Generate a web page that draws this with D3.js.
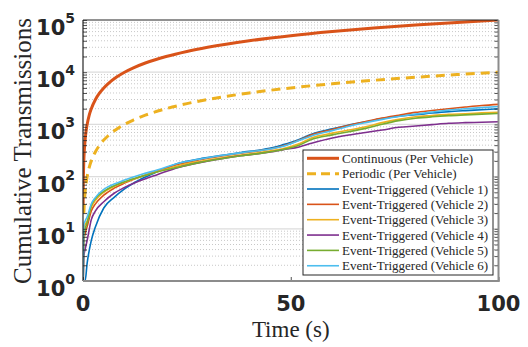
<!DOCTYPE html>
<html>
<head>
<meta charset="utf-8">
<script src="https://cdn.jsdelivr.net/npm/d3@7"></script>
<style>
  html, body { margin: 0; padding: 0; background: #fff; }
  svg { display: block; }
</style>
</head>
<body>
<svg id="chart" width="528" height="347"></svg>
<script>
// Cumulative transmissions over time, log-scaled y axis

// Continuous and periodic schemes (per vehicle)
const contTime   = [0.02, 0.05, 0.1, 0.2, 0.3, 0.5, 0.75, 1, 1.5, 2, 3, 4, 5, 6, 8, 10, 12, 15, 20, 25, 30, 40, 50, 60, 70, 80, 90, 100];
const contValues = [20, 50, 100, 200, 300, 500, 750, 1000, 1500, 2000, 3000, 4000, 5000, 6000, 8000, 10000, 12000, 15000, 20000, 25000, 30000, 40000, 50000, 60000, 70000, 80000, 90000, 100000];

const periTime   = [0.2, 0.3, 0.5, 0.75, 1, 1.5, 2, 3, 4, 5, 6, 8, 10, 12, 15, 20, 25, 30, 40, 50, 60, 70, 80, 90, 100];
const periValues = [20, 30, 50, 75, 100, 150, 200, 300, 400, 500, 600, 800, 1000, 1200, 1500, 2000, 2500, 3000, 4000, 5000, 6000, 7000, 8000, 9000, 10000];

// Event-triggered scheme, one series per vehicle
const eventTime = [0.05, 0.2, 0.5, 1, 2, 3, 5, 7.5, 10, 14, 18, 23, 28, 33, 38, 43, 46, 48, 52, 55, 60, 64, 68, 72, 76, 80, 84, 88, 92, 96, 100];
const vehicle1 = [1, 1, 1, 2.2, 6, 11, 25, 40, 58, 90, 125, 180, 218, 252, 290, 328, 365, 405, 515, 650, 820, 973, 1120, 1290, 1440, 1530, 1650, 1760, 1840, 1910, 1990];
const vehicle2 = [1, 6, 8, 11, 22, 30, 44, 60, 75, 100, 128, 172, 210, 245, 280, 318, 350, 385, 495, 630, 800, 960, 1130, 1320, 1500, 1700, 1850, 2000, 2150, 2300, 2420];
const vehicle3 = [1, 10, 12, 14, 26, 35, 50, 65, 78, 100, 125, 162, 195, 228, 260, 292, 318, 342, 425, 550, 680, 780, 900, 1080, 1250, 1400, 1480, 1560, 1600, 1660, 1710];
const vehicle4 = [1, 3, 4, 6, 15, 22, 33, 48, 62, 85, 110, 150, 185, 218, 250, 280, 302, 325, 370, 435, 550, 627, 700, 780, 880, 930, 990, 1050, 1080, 1100, 1127];
const vehicle5 = [1, 8, 10, 13, 28, 38, 52, 67, 80, 100, 124, 152, 185, 217, 250, 282, 305, 328, 400, 515, 630, 725, 840, 1010, 1180, 1310, 1400, 1470, 1520, 1570, 1620];
const vehicle6 = [1, 12, 14, 17, 30, 40, 57, 72, 86, 110, 135, 180, 215, 250, 285, 320, 350, 378, 490, 600, 760, 920, 1080, 1250, 1420, 1580, 1720, 1880, 2000, 2100, 2200];

const xTicks = [0, 50, 100];
const yTickExponents = [0, 1, 2, 3, 4, 5];

const seriesNames = [
  "Continuous (Per Vehicle)",
  "Periodic (Per Vehicle)",
  "Event-Triggered (Vehicle 1)",
  "Event-Triggered (Vehicle 2)",
  "Event-Triggered (Vehicle 3)",
  "Event-Triggered (Vehicle 4)",
  "Event-Triggered (Vehicle 5)",
  "Event-Triggered (Vehicle 6)"
];
const seriesColors = ["#D95319", "#EDB120", "#0072BD", "#D95319", "#EDB120", "#7E2F8E", "#77AC30", "#4DBEEE"];

const series = [
  { t: contTime, v: contValues, width: 3, dash: null },
  { t: periTime, v: periValues, width: 3, dash: "9,6" },
  { t: eventTime, v: vehicle1, width: 1.6, dash: null },
  { t: eventTime, v: vehicle2, width: 1.6, dash: null },
  { t: eventTime, v: vehicle3, width: 1.6, dash: null },
  { t: eventTime, v: vehicle4, width: 1.6, dash: null },
  { t: eventTime, v: vehicle5, width: 1.6, dash: null },
  { t: eventTime, v: vehicle6, width: 1.6, dash: null }
].map((s, i) => ({ ...s, name: seriesNames[i], color: seriesColors[i] }));

const svg = d3.select("#chart");
const plot = { left: 83, right: 498.5, top: 20, bottom: 281 };

const x = d3.scaleLinear().domain([0, 100]).range([plot.left, plot.right]);
const y = d3.scaleLog().domain([1, 1e5]).range([plot.bottom, plot.top]);

svg.append("defs").append("clipPath").attr("id", "plot-clip")
  .append("rect")
  .attr("x", plot.left).attr("y", plot.top)
  .attr("width", plot.right - plot.left).attr("height", plot.bottom - plot.top);

// Grid: minor dotted lines, then major solid lines at each decade
const minorVals = [];
for (let e = 0; e < 5; e++) for (let m = 2; m <= 9; m++) minorVals.push(m * Math.pow(10, e));
const majorVals = yTickExponents.map(e => Math.pow(10, e));

const grid = svg.append("g");
grid.selectAll("line.minor").data(minorVals).join("line")
  .attr("class", "minor")
  .attr("x1", plot.left).attr("x2", plot.right)
  .attr("y1", d => y(d)).attr("y2", d => y(d))
  .attr("stroke", "#c8c8c8").attr("stroke-width", 1)
  .attr("stroke-dasharray", "1,2");
grid.selectAll("line.major").data(majorVals.slice(1, -1)).join("line")
  .attr("class", "major")
  .attr("x1", plot.left).attr("x2", plot.right)
  .attr("y1", d => y(d)).attr("y2", d => y(d))
  .attr("stroke", "#dcdcdc").attr("stroke-width", 1.2);

// Series lines
const line = d3.line()
  .x(d => x(d[0]))
  .y(d => y(d[1]))
  .curve(d3.curveMonotoneX);

const lines = svg.append("g").attr("clip-path", "url(#plot-clip)");
series.forEach(s => {
  lines.append("path")
    .datum(s.t.map((t, i) => [t, s.v[i]]))
    .attr("d", line)
    .attr("fill", "none")
    .attr("stroke", s.color)
    .attr("stroke-width", s.width)
    .attr("stroke-dasharray", s.dash)
    .attr("stroke-linejoin", "round");
});

// Axes with inward ticks (left/right minor ticks on the log axis)
const yAxisLeft = d3.axisRight(y).tickValues(majorVals.concat(minorVals)).tickFormat("")
  .tickSizeOuter(0).tickSize(4);
svg.append("g").attr("transform", `translate(${plot.left},0)`).call(yAxisLeft)
  .call(g => g.select(".domain").remove())
  .call(g => g.selectAll(".tick line").attr("stroke", "#262626").attr("stroke-width", 0.8));
const yAxisRight = d3.axisLeft(y).tickValues(majorVals.concat(minorVals)).tickFormat("")
  .tickSizeOuter(0).tickSize(4);
svg.append("g").attr("transform", `translate(${plot.right},0)`).call(yAxisRight)
  .call(g => g.select(".domain").remove())
  .call(g => g.selectAll(".tick line").attr("stroke", "#262626").attr("stroke-width", 0.8));

const xAxis = d3.axisTop(x).tickValues(xTicks).tickFormat("").tickSizeOuter(0).tickSize(4);
svg.append("g").attr("transform", `translate(0,${plot.bottom})`).call(xAxis)
  .call(g => g.select(".domain").remove())
  .call(g => g.selectAll(".tick line").attr("stroke", "#262626").attr("stroke-width", 0.8));

// Frame
svg.append("line").attr("x1", plot.left).attr("x2", plot.right).attr("y1", plot.top).attr("y2", plot.top)
  .attr("stroke", "#262626").attr("stroke-width", 1.2);
svg.append("line").attr("x1", plot.left).attr("x2", plot.left).attr("y1", plot.top).attr("y2", plot.bottom)
  .attr("stroke", "#262626").attr("stroke-width", 1.2);
svg.append("line").attr("x1", plot.right).attr("x2", plot.right).attr("y1", plot.top).attr("y2", plot.bottom + 1)
  .attr("stroke", "#8c8c8c").attr("stroke-width", 2);
svg.append("line").attr("x1", plot.left).attr("x2", plot.right + 1).attr("y1", plot.bottom).attr("y2", plot.bottom)
  .attr("stroke", "#8c8c8c").attr("stroke-width", 2);

// Tick labels
const tickFont = "'DejaVu Sans', sans-serif";
const yLabels = svg.append("g");
yTickExponents.forEach(e => {
  const yy = y(Math.pow(10, e));
  const t = yLabels.append("text")
    .attr("x", 75).attr("y", yy + 15)
    .attr("text-anchor", "end")
    .attr("font-family", tickFont).attr("font-weight", "bold")
    .attr("fill", "#262626");
  t.append("tspan").attr("font-size", 21).text("10");
  t.append("tspan").attr("font-size", 14).attr("dy", -12).text(String(e));
});

svg.append("g").selectAll("text").data(xTicks).join("text")
  .attr("x", d => x(d)).attr("y", 311)
  .attr("text-anchor", "middle")
  .attr("font-family", tickFont).attr("font-weight", "bold").attr("font-size", 21)
  .attr("fill", "#262626")
  .text(d => d);

// Axis titles
const titleFont = "'Liberation Serif', 'Times New Roman', serif";
svg.append("text")
  .attr("x", (plot.left + plot.right) / 2).attr("y", 337)
  .attr("text-anchor", "middle")
  .attr("font-family", titleFont).attr("font-size", 23).attr("fill", "#262626")
  .text("Time (s)");
svg.append("text")
  .attr("transform", "translate(31,151) rotate(-90)")
  .attr("text-anchor", "middle")
  .attr("font-family", titleFont).attr("font-size", 25).attr("fill", "#262626")
  .text("Cumulative Transmissions");

// Legend
const legend = svg.append("g");
const lg = { x: 303, y: 150, w: 190, h: 125, row: 15.35 };
legend.append("rect")
  .attr("x", lg.x).attr("y", lg.y).attr("width", lg.w).attr("height", lg.h)
  .attr("fill", "#fff").attr("stroke", "#262626").attr("stroke-width", 1);
series.forEach((s, i) => {
  const cy = lg.y + 8.3 + i * lg.row;
  legend.append("line")
    .attr("x1", lg.x + 4).attr("x2", lg.x + 36)
    .attr("y1", cy).attr("y2", cy)
    .attr("stroke", s.color).attr("stroke-width", s.width)
    .attr("stroke-dasharray", s.dash ? "9,5" : null);
  legend.append("text")
    .attr("x", lg.x + 39).attr("y", cy + 4.5)
    .attr("font-family", titleFont).attr("font-size", 13).attr("fill", "#262626")
    .text(s.name);
});
</script>
</body>
</html>
